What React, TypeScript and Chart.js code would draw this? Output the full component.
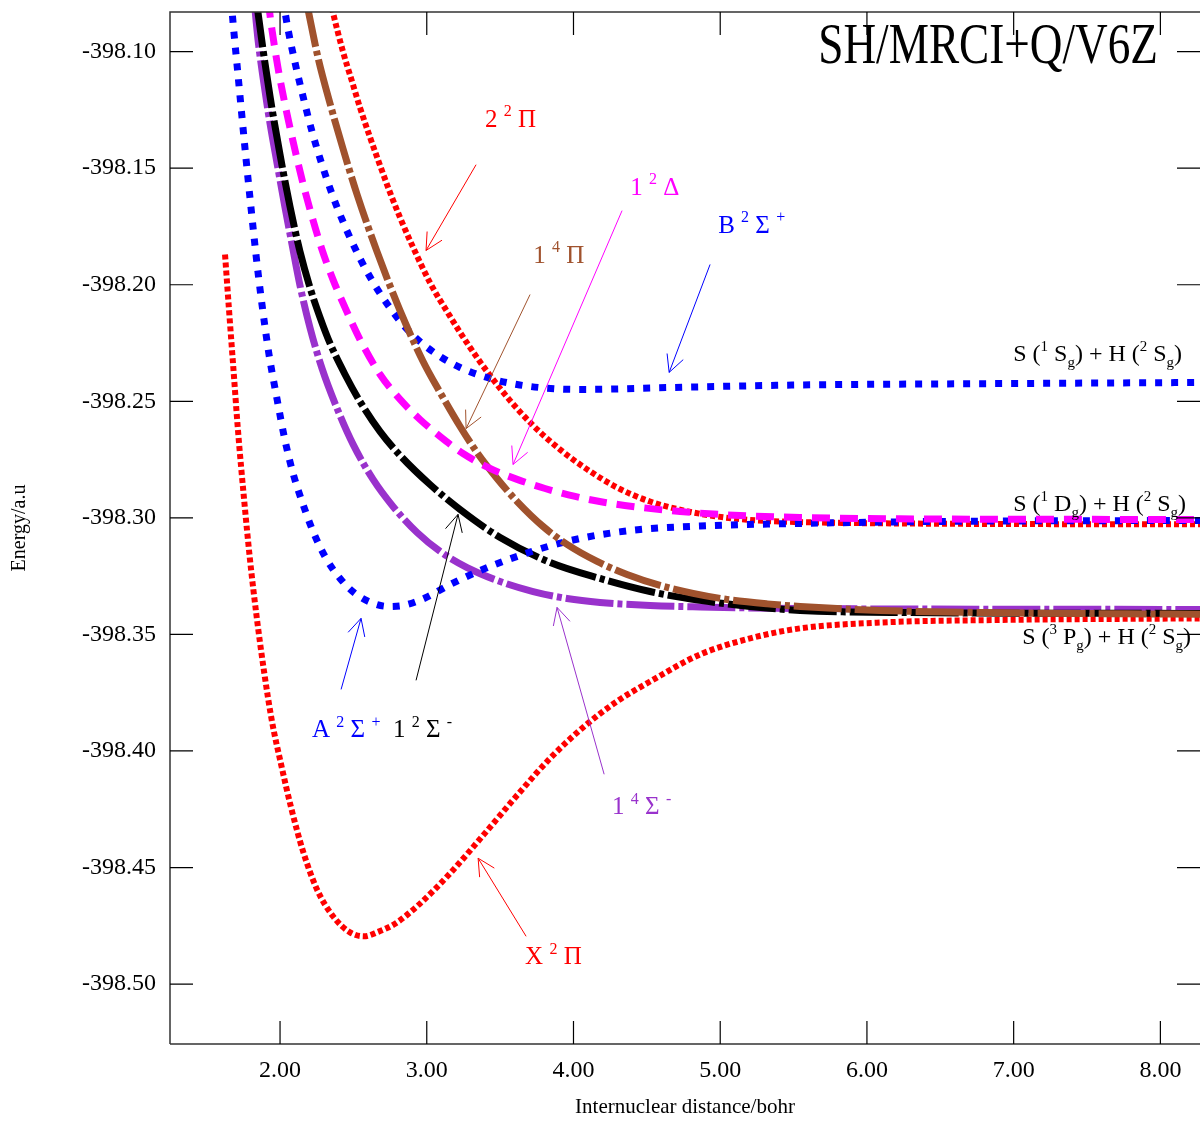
import React, { useEffect, useRef } from "react";
import { Chart, registerables } from "chart.js";

Chart.register(...registerables);

// ---- axis ticks ----
const xTicks = [2, 3, 4, 5, 6, 7, 8];
const yTicks = [-398.1, -398.15, -398.2, -398.25, -398.3, -398.35, -398.4, -398.45, -398.5];

// ---- potential energy curves (r in bohr, E in a.u.) ----
const rX2Pi = [1.625, 1.652, 1.68, 1.714, 1.755, 1.795, 1.843, 1.891, 1.945, 2.007, 2.075, 2.157, 2.252, 2.361, 2.477, 2.573, 2.668, 2.784, 2.934, 3.159, 3.384, 3.616, 3.84, 4.065, 4.297, 4.522, 4.863, 5.204, 5.545, 6.09, 6.908, 8.339];
const eX2Pi = [-398.187, -398.2106, -398.2342, -398.263, -398.2921, -398.3178, -398.3436, -398.3659, -398.3873, -398.4057, -398.4242, -398.4431, -398.4594, -398.4709, -398.4778, -398.4795, -398.4776, -398.4741, -398.4666, -398.4525, -398.4362, -398.419, -398.4032, -398.3899, -398.3787, -398.3702, -398.3586, -398.3517, -398.3474, -398.3449, -398.3438, -398.3431];

const rA2Sp = [1.666, 1.686, 1.714, 1.741, 1.768, 1.802, 1.836, 1.877, 1.925, 1.98, 2.034, 2.089, 2.15, 2.225, 2.314, 2.409, 2.511, 2.627, 2.736, 2.852, 2.988, 3.159, 3.397, 3.636, 3.875, 4.147, 4.454, 4.863, 5.545, 6.567, 8.339];
const eA2Sp = [-398.0777, -398.0919, -398.1103, -398.1283, -398.1459, -398.1669, -398.1871, -398.2085, -398.23, -398.2492, -398.2668, -398.281, -398.293, -398.3058, -398.3174, -398.326, -398.3324, -398.3365, -398.338, -398.3374, -398.3344, -398.3286, -398.3217, -398.3161, -398.3114, -398.3076, -398.305, -398.3035, -398.3024, -398.3015, -398.3011];

const rB2Sp = [2.02, 2.055, 2.102, 2.157, 2.218, 2.286, 2.361, 2.443, 2.532, 2.627, 2.729, 2.838, 2.954, 3.091, 3.227, 3.431, 3.616, 3.806, 4.011, 4.229, 4.454, 4.863, 5.545, 6.908, 8.339];
const eB2Sp = [-398.0777, -398.0906, -398.1047, -398.1193, -398.1343, -398.1485, -398.1622, -398.175, -398.1871, -398.1982, -398.2081, -398.2171, -398.2244, -398.2308, -398.2355, -398.2402, -398.2428, -398.2443, -398.2449, -398.2448, -398.2444, -398.2438, -398.243, -398.2424, -398.2419];

const r22Pi = [2.341, 2.361, 2.429, 2.491, 2.545, 2.614, 2.682, 2.75, 2.818, 2.907, 3.022, 3.159, 3.295, 3.431, 3.568, 3.725, 3.909, 4.093, 4.297, 4.522, 4.747, 4.979, 5.204, 5.545, 6.226, 8.339];
const e22Pi = [-398.0777, -398.0833, -398.1, -398.1129, -398.124, -398.1369, -398.1489, -398.1605, -398.1712, -398.184, -398.1991, -398.2136, -398.2269, -398.2389, -398.2497, -398.2604, -398.2707, -398.2792, -398.287, -398.293, -398.2968, -398.2994, -398.3009, -398.3018, -398.3024, -398.3028];

const r12De = [1.918, 1.945, 1.986, 2.034, 2.089, 2.15, 2.218, 2.286, 2.361, 2.443, 2.545, 2.682, 2.818, 2.954, 3.091, 3.247, 3.431, 3.616, 3.806, 4.011, 4.215, 4.454, 4.727, 5.136, 5.545, 6.226, 8.339];
const e12De = [-398.0777, -398.0906, -398.1069, -398.1227, -398.1386, -398.1549, -398.1708, -398.1849, -398.1978, -398.2098, -398.2235, -398.2385, -398.2492, -398.2578, -398.2651, -398.2724, -398.2788, -398.2835, -398.2874, -398.2908, -398.2934, -398.2955, -398.2973, -398.299, -398.2998, -398.3004, -398.3007];

const r14Pi = [2.177, 2.191, 2.259, 2.341, 2.429, 2.525, 2.661, 2.818, 2.975, 3.091, 3.227, 3.343, 3.479, 3.616, 3.793, 3.956, 4.161, 4.365, 4.59, 4.815, 5.047, 5.32, 5.545, 6.09, 6.772, 8.339];
const e14Pi = [-398.0777, -398.082, -398.1026, -398.1223, -398.1416, -398.1613, -398.1858, -398.2111, -398.2329, -398.2462, -398.2608, -398.272, -398.2831, -398.293, -398.3037, -398.3114, -398.3187, -398.3243, -398.329, -398.3324, -398.335, -398.3369, -398.338, -398.3397, -398.3406, -398.3414];

const r12Sm = [1.838, 1.884, 1.932, 2.0, 2.068, 2.136, 2.204, 2.273, 2.341, 2.443, 2.545, 2.682, 2.818, 3.022, 3.227, 3.5, 3.84, 4.181, 4.522, 4.863, 5.204, 5.545, 6.226, 8.339];
const e12Sm = [-398.0777, -398.0991, -398.1193, -398.1442, -398.1665, -398.1858, -398.2012, -398.2141, -398.2252, -398.2385, -398.2501, -398.263, -398.2732, -398.2857, -398.2964, -398.3084, -398.3191, -398.326, -398.3316, -398.3354, -398.338, -398.3397, -398.3406, -398.341];

const r14Sm = [1.823, 1.85, 1.884, 1.932, 1.98, 2.034, 2.082, 2.136, 2.204, 2.286, 2.389, 2.498, 2.634, 2.77, 2.934, 3.091, 3.275, 3.5, 3.725, 3.956, 4.181, 4.522, 4.863, 5.545, 8.339];
const e14Sm = [-398.0777, -398.0949, -398.1111, -398.1309, -398.148, -398.1669, -398.1828, -398.2003, -398.2184, -398.2359, -398.2531, -398.2685, -398.2835, -398.2951, -398.3063, -398.3144, -398.3213, -398.3273, -398.3316, -398.3346, -398.3363, -398.3376, -398.3382, -398.3389, -398.3393];

// ---- annotations (positions in data units) ----
type Part = [string, string?];
const labelParts: Part[][] = [
  [["2 "], ["2", "sup"], [" Π"]],
  [["1 "], ["2", "sup"], [" Δ"]],
  [["B "], ["2", "sup"], [" Σ "], ["+", "sup"]],
  [["1 "], ["4", "sup"], [" Π"]],
  [["A "], ["2", "sup"], [" Σ "], ["+", "sup"]],
  [["1 "], ["2", "sup"], [" Σ "], ["-", "sup"]],
  [["1 "], ["4", "sup"], [" Σ "], ["-", "sup"]],
  [["X "], ["2", "sup"], [" Π"]],
];
const labelColors = ["#ff0000", "#ff00ff", "#0000ff", "#a0522d", "#0000ff", "#000000", "#9932cc", "#ff0000"];
const labelX = [3.397, 4.386, 4.986, 3.725, 2.218, 2.77, 4.263, 3.67];
const labelY = [-398.1322, -398.1613, -398.1776, -398.1905, -398.3942, -398.3942, -398.4272, -398.4915];
const arrowTail: number[][] = [[3.336, -398.1485], [4.331, -398.1682], [4.931, -398.1913], [3.704, -398.2042], [2.416, -398.3736], [2.927, -398.3697], [4.209, -398.41], [3.677, -398.4795]];
const arrowHead: number[][] = [[2.995, -398.1853], [3.588, -398.2771], [4.652, -398.2376], [3.268, -398.2617], [2.552, -398.3431], [3.213, -398.2985], [3.888, -398.3384], [3.35, -398.446]];

const limitParts: Part[][] = [
  [["S ("], ["1", "sup"], [" S"], ["g", "sub"], [") + H ("], ["2", "sup"], [" S"], ["g", "sub"], [")"]],
  [["S ("], ["1", "sup"], [" D"], ["g", "sub"], [") + H ("], ["2", "sup"], [" S"], ["g", "sub"], [")"]],
  [["S ("], ["3", "sup"], [" P"], ["g", "sub"], [") + H ("], ["2", "sup"], [" S"], ["g", "sub"], [")"]],
];
const limitX = [6.997, 6.997, 7.058];
const limitY = [-398.2329, -398.2972, -398.3543];

const TITLE = "SH/MRCI+Q/V6Z";
const FONT = '"Liberation Serif", "Times New Roman", serif';

function pts(r: number[], e: number[]) {
  return r.map((x, i) => ({ x, y: e[i] }));
}

function drawRich(ctx: CanvasRenderingContext2D, x: number, y: number, parts: Part[], size: number, color: string) {
  ctx.save();
  ctx.fillStyle = color;
  ctx.textAlign = "left";
  ctx.textBaseline = "alphabetic";
  let cx = x;
  for (const [t, k] of parts) {
    const fs = k ? Math.round(size * 0.64) : size;
    ctx.font = `${fs}px ${FONT}`;
    const dy = k === "sup" ? -size * 0.42 : k === "sub" ? size * 0.24 : 0;
    ctx.fillText(t, cx, y + dy);
    cx += ctx.measureText(t).width;
  }
  ctx.restore();
}

function drawArrow(ctx: CanvasRenderingContext2D, x1: number, y1: number, x2: number, y2: number, color: string) {
  const ang = Math.atan2(y1 - y2, x1 - x2);
  const L = 19;
  const w = (27 * Math.PI) / 180;
  ctx.save();
  ctx.strokeStyle = color;
  ctx.lineWidth = 1;
  ctx.beginPath();
  ctx.moveTo(x1, y1);
  ctx.lineTo(x2, y2);
  ctx.moveTo(x2 + L * Math.cos(ang + w), y2 + L * Math.sin(ang + w));
  ctx.lineTo(x2, y2);
  ctx.lineTo(x2 + L * Math.cos(ang - w), y2 + L * Math.sin(ang - w));
  ctx.stroke();
  ctx.restore();
}

const decorPlugin = {
  id: "decor",
  afterDatasetsDraw(chart: any) {
    const { ctx, chartArea, scales } = chart;
    const xs = scales.x;
    const ys = scales.y;
    const { left, right, top, bottom } = chartArea;
    ctx.save();
    ctx.strokeStyle = "#333";
    ctx.lineWidth = 1.5;
    ctx.beginPath();
    ctx.moveTo(left, bottom);
    ctx.lineTo(left, top);
    ctx.lineTo(right, top);
    ctx.moveTo(left, bottom);
    ctx.lineTo(right, bottom);
    ctx.stroke();
    ctx.strokeStyle = "#000";
    ctx.lineWidth = 1.2;
    const T = 23;
    ctx.beginPath();
    for (const v of xTicks) {
      const px = xs.getPixelForValue(v);
      ctx.moveTo(px, top);
      ctx.lineTo(px, top + T);
      ctx.moveTo(px, bottom);
      ctx.lineTo(px, bottom - T);
    }
    for (const v of yTicks) {
      const py = ys.getPixelForValue(v);
      ctx.moveTo(left, py);
      ctx.lineTo(left + T, py);
      ctx.moveTo(right, py);
      ctx.lineTo(right - T, py);
    }
    ctx.stroke();
    ctx.save();
    ctx.translate(right - 42, top + 51);
    ctx.scale(0.78, 1);
    ctx.font = `58px ${FONT}`;
    ctx.fillStyle = "#000";
    ctx.textAlign = "right";
    ctx.textBaseline = "alphabetic";
    ctx.fillText(TITLE, 0, 0);
    ctx.restore();
    labelParts.forEach((parts, i) => {
      drawRich(ctx, xs.getPixelForValue(labelX[i]), ys.getPixelForValue(labelY[i]), parts, 25, labelColors[i]);
      drawArrow(
        ctx,
        xs.getPixelForValue(arrowTail[i][0]),
        ys.getPixelForValue(arrowTail[i][1]),
        xs.getPixelForValue(arrowHead[i][0]),
        ys.getPixelForValue(arrowHead[i][1]),
        labelColors[i]
      );
    });
    limitParts.forEach((parts, i) => {
      drawRich(ctx, xs.getPixelForValue(limitX[i]), ys.getPixelForValue(limitY[i]), parts, 24, "#000");
    });
    ctx.restore();
  },
};

export default function App() {
  const ref = useRef<HTMLCanvasElement | null>(null);
  useEffect(() => {
    if (!ref.current) return;
    const dashDot = [48, 4, 5, 4];
    const dotted = [7, 9];
    const redDots = [5, 3];
    const mk = (label: string, data: any[], color: string, width: number, dash: number[]) => ({
      label,
      data,
      borderColor: color,
      backgroundColor: color,
      borderWidth: width,
      borderDash: dash,
      borderCapStyle: "butt",
      pointRadius: 0,
      fill: false,
      cubicInterpolationMode: "monotone",
      clip: 0,
    });
    const chart = new Chart(ref.current, {
      type: "line",
      data: {
        datasets: [
          mk("1 2Δ", pts(r12De, e12De), "#ff00ff", 7, [18, 10]),
          mk("1 4Π", pts(r14Pi, e14Pi), "#a0522d", 7, dashDot),
          mk("B 2Σ+", pts(rB2Sp, eB2Sp), "#0000ff", 7, dotted),
          mk("A 2Σ+", pts(rA2Sp, eA2Sp), "#0000ff", 7, dotted),
          mk("1 2Σ-", pts(r12Sm, e12Sm), "#000000", 7, dashDot),
          mk("1 4Σ-", pts(r14Sm, e14Sm), "#9932cc", 7, dashDot),
          mk("2 2Π", pts(r22Pi, e22Pi), "#ff0000", 6, redDots),
          mk("X 2Π", pts(rX2Pi, eX2Pi), "#ff0000", 6, redDots),
        ] as any,
      },
      options: {
        animation: false,
        responsive: true,
        maintainAspectRatio: false,
        layout: { padding: { top: 12, right: 0, left: 0, bottom: 0 } },
        plugins: { legend: { display: false }, tooltip: { enabled: false } },
        scales: {
          x: {
            type: "linear",
            min: 1.25,
            max: 8.27,
            afterBuildTicks: (s: any) => {
              s.ticks = xTicks.map((v) => ({ value: v }));
            },
            afterFit: (s: any) => {
              s.height = 80;
              s.paddingLeft = 0;
              s.paddingRight = 0;
            },
            grid: { display: false, drawTicks: false },
            border: { display: false },
            ticks: {
              color: "#000",
              font: { family: FONT, size: 24 },
              padding: 12,
              maxRotation: 0,
              autoSkip: false,
              callback: (v: any) => Number(v).toFixed(2),
            },
            title: {
              display: true,
              text: "Internuclear distance/bohr",
              color: "#000",
              font: { family: FONT, size: 21 },
              padding: { top: 0, bottom: 4 },
            },
          },
          y: {
            type: "linear",
            min: -398.5257,
            max: -398.083,
            afterBuildTicks: (s: any) => {
              s.ticks = yTicks.map((v) => ({ value: v }));
            },
            afterFit: (s: any) => {
              s.width = 170;
              s.paddingTop = 0;
              s.paddingBottom = 0;
            },
            grid: { display: false, drawTicks: false },
            border: { display: false },
            ticks: {
              color: "#000",
              font: { family: FONT, size: 24 },
              padding: 14,
              autoSkip: false,
              callback: (v: any) => Number(v).toFixed(2),
            },
            title: {
              display: true,
              text: "Energy/a.u",
              color: "#000",
              font: { family: FONT, size: 20 },
              padding: { top: 8, bottom: 0 },
            },
          },
        },
      } as any,
      plugins: [decorPlugin],
    });
    return () => chart.destroy();
  }, []);
  return (
    <div style={{ position: "fixed", left: 0, top: 0, width: 1200, height: 1124, background: "#fff" }}>
      <canvas ref={ref} />
    </div>
  );
}
